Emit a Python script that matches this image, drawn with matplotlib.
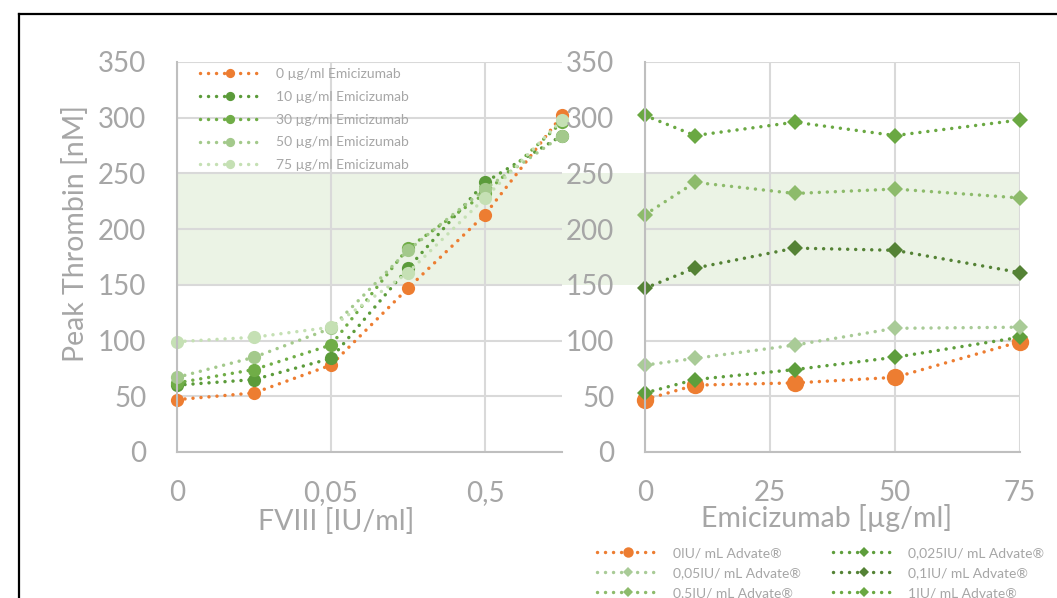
import matplotlib
matplotlib.use("Agg")
import matplotlib.pyplot as plt
import matplotlib.transforms as mtransforms
from matplotlib.patches import Rectangle
from matplotlib.lines import Line2D

plt.rcParams['font.family'] = ['Lato', 'DejaVu Sans']

# ---------------- data ----------------
fviii_labels = ["0", "0,025", "0,05", "0,1", "0,5", "1"]
emi_levels = [0, 10, 30, 50, 75]
emi_names = ["0 µg/ml Emicizumab", "10 µg/ml Emicizumab", "30 µg/ml Emicizumab",
             "50 µg/ml Emicizumab", "75 µg/ml Emicizumab"]
advate_names = ["0IU/ mL Advate®", "0,025IU/ mL Advate®", "0,05IU/ mL Advate®",
                "0,1IU/ mL Advate®", "0,5IU/ mL Advate®", "1IU/ mL Advate®"]

# Peak thrombin [nM] per emicizumab level, across FVIII levels
peak_emi0 = [47, 53, 78, 147, 213, 302]
peak_emi10 = [60, 65, 84, 165, 242, 284]
peak_emi30 = [62, 74, 96, 183, 232, 296]
peak_emi50 = [67, 85, 111, 181, 236, 284]
peak_emi75 = [99, 103, 112, 161, 228, 298]
peak_by_emi = [peak_emi0, peak_emi10, peak_emi30, peak_emi50, peak_emi75]

band_low, band_high = 150, 250

# ---------------- style ----------------
emi_colors = ["#ED7D31", "#5B9B3A", "#70AD47", "#A3C98B", "#C5E0B4"]
fviii_colors = ["#ED7D31", "#5E9E3C", "#A9CB97", "#548235", "#8DBB6B", "#6AA842"]
grid_c = "#D9D9D9"
axis_c = "#BFBFBF"
text_c = "#A6A6A6"
band_c = "#EBF3E5"
W, H = 1057, 598
dotted = (0, (0.01, 2.3))

fig = plt.figure(figsize=(W / 100, H / 100), dpi=100)


def fx(px):
    return px / W


def fy(py):
    return 1 - py / H


ax1 = fig.add_axes([fx(177), fy(452), fx(562) - fx(177), fy(62) - fy(452)])
ax2 = fig.add_axes([fx(645), fy(452), fx(1020) - fx(645), fy(62) - fy(452)])

for ax in (ax1, ax2):
    ax.set_facecolor("none")
    ax.set_ylim(0, 350)
    ax.set_yticks(range(0, 351, 50))
    ax.grid(True, color=grid_c, lw=1.5)
    ax.set_axisbelow(True)
    for s in ("top", "right"):
        ax.spines[s].set_visible(False)
    for s in ("left", "bottom"):
        ax.spines[s].set_color(axis_c)
        ax.spines[s].set_linewidth(1.5)
    ax.tick_params(length=0, labelsize=20, labelcolor=text_c)
    ax.tick_params(axis="y", pad=22)
    ax.tick_params(axis="x", pad=20)

# band across both charts
trans = mtransforms.blended_transform_factory(fig.transFigure, ax1.transData)
band = Rectangle((fx(177), band_low), fx(1020) - fx(177), band_high - band_low,
                 transform=trans, facecolor=band_c, edgecolor="none", zorder=-1)
fig.add_artist(band)

# ---- left chart: Peak thrombin vs FVIII, one line per emicizumab ----
xs = list(range(len(fviii_labels)))
for vals, col, name in zip(peak_by_emi, emi_colors, emi_names):
    ax1.plot(xs, vals, color=col, lw=2.5, linestyle=dotted, dash_capstyle="round",
             marker="o", markersize=9.5, markeredgewidth=0, label=name, clip_on=False)
ax1.set_xlim(0, len(fviii_labels) - 1)
ax1.set_xticks(xs[::2])
ax1.set_xticklabels(fviii_labels[::2])

leg1 = ax1.legend(loc="upper left", bbox_to_anchor=(fx(200), fy(68)),
                  bbox_transform=fig.transFigure, frameon=False, fontsize=10,
                  handlelength=4.3, handletextpad=1.2, labelspacing=0.78,
                  borderpad=0, borderaxespad=0, markerscale=0.7)
for t in leg1.get_texts():
    t.set_color(text_c)

# ---- right chart: Peak thrombin vs emicizumab, one line per FVIII ----
right_handles = []
for j, (col, name) in enumerate(zip(fviii_colors, advate_names)):
    vals = [series[j] for series in peak_by_emi]
    if j == 0:
        h, = ax2.plot(emi_levels, vals, color=col, lw=2.5, linestyle=dotted,
                      dash_capstyle="round", marker="o", markersize=12.5,
                      markeredgewidth=0, label=name, clip_on=False)
    else:
        h, = ax2.plot(emi_levels, vals, color=col, lw=2.5, linestyle=dotted,
                      dash_capstyle="round", marker="D", markersize=8.5,
                      markeredgewidth=0, label=name, clip_on=False)
    right_handles.append(h)
ax2.set_xlim(0, 75)
ax2.set_xticks([0, 25, 50, 75])

order = [0, 2, 4, 1, 3, 5]
leg2 = fig.legend([right_handles[i] for i in order], [advate_names[i] for i in order],
                  loc="upper left", bbox_to_anchor=(fx(597), fy(547)),
                  bbox_transform=fig.transFigure, ncol=2, frameon=False,
                  fontsize=10, handlelength=4.5, handletextpad=0.95,
                  columnspacing=2.3, labelspacing=0.58, borderpad=0,
                  borderaxespad=0, markerscale=0.6)
for t in leg2.get_texts():
    t.set_color(text_c)

# axis titles
fig.text(fx(75), fy(233), "Peak Thrombin [nM]", rotation=90, ha="center", va="center",
         fontsize=20.5, color=text_c)
fig.text(fx(336), fy(522), "FVIII [IU/ml]", ha="center", va="center",
         fontsize=20.5, color=text_c)
fig.text(fx(827), fy(518), "Emicizumab [µg/ml]", ha="center", va="center",
         fontsize=20.5, color=text_c)

# outer frame (left and top edges)
fig.add_artist(Line2D([fx(19), fx(19)], [0, fy(14)], transform=fig.transFigure,
                      color="black", lw=1.6))
fig.add_artist(Line2D([fx(19), 1], [fy(14), fy(14)], transform=fig.transFigure,
                      color="black", lw=1.6))

fig.savefig("out.png", dpi=100)
